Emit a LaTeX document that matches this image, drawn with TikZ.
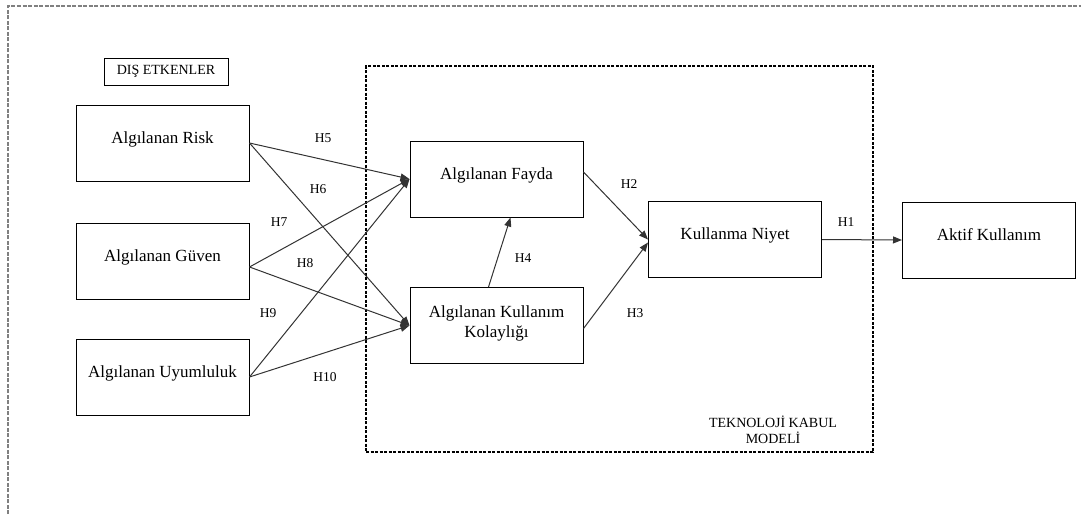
\documentclass[tikz,border=0pt]{standalone}
\usepackage{fontspec}
\setmainfont{Liberation Serif}
\usetikzlibrary{arrows.meta}

\begin{document}
\begin{tikzpicture}[x=1pt,y=-1pt,
		box/.style={draw,line width=1pt,minimum width=173pt,minimum height=76pt,text depth=11pt,align=center,font=\fontsize{17}{20}\selectfont},
		hlbl/.style={font=\fontsize{13.5}{15}\selectfont},
		link/.style={color=black!80,line width=1pt,-{Triangle[length=9pt,width=7pt]}}]
		      		\useasboundingbox (0,0) rectangle (1081,514);
		      		\draw[black!50,line width=1.2pt,dash pattern=on 4pt off 1.5pt] (8,514) -- (8,6) -- (1081,6);
		      		\node[draw,line width=1.1pt,dash pattern=on 3pt off 1.5pt,minimum width=507pt,minimum height=386pt] (tam) at (619.5,259) {};
		      		\node[align=center,font=\fontsize{14}{16}\selectfont] (tamlbl) at (773,430) {TEKNOLOJİ KABUL\\MODELİ};
		      		\node[draw,line width=1pt,minimum width=124pt,minimum height=27pt,font=\fontsize{14}{16}\selectfont] (dis) at (166,71.5) {DIŞ ETKENLER};
		      		\node[box] (risk) at (162.5,143) {Algılanan Risk};
		      		\node[box] (guven) at (162.5,261) {Algılanan Güven};
		      		\node[box] (uyum) at (162.5,377) {Algılanan Uyumluluk};
		      		\node[box] (fayda) at (496.5,179) {Algılanan Fayda};
		      		\node[box,text depth=8pt] (kolay) at (496.5,325.5) {Algılanan Kullanım\\Kolaylığı};
		      		\node[box] (niyet) at (735,239.5) {Kullanma Niyet};
		      		\node[box] (aktif) at (989,240) {Aktif Kullanım};
		      		\path[link]
		      		(risk.east) edge (fayda.west)
		      		edge (kolay.west)
		      		([yshift=-6pt]guven.east) edge (fayda.west)
		      		edge (kolay.west)
		      		(uyum.east) edge (fayda.west)
		      		edge (kolay.west)
		      		([yshift=7pt]fayda.east) edge (niyet.west)
		      		([yshift=-3pt]kolay.east) edge ([yshift=-3pt]niyet.west)
		      		([xshift=-8pt]kolay.north) edge ([xshift=14pt]fayda.south)
		      		(niyet.east) edge (aktif.west);
		      		\node[hlbl] (h1) at (846,222) {H1};
		      		\node[hlbl] (h2) at (629,184) {H2};
		      		\node[hlbl] (h3) at (635,313) {H3};
		      		\node[hlbl] (h4) at (523,258) {H4};
		      		\node[hlbl] (h5) at (323,138) {H5};
		      		\node[hlbl] (h6) at (318,189) {H6};
		      		\node[hlbl] (h7) at (279,222) {H7};
		      		\node[hlbl] (h8) at (305,263) {H8};
		      		\node[hlbl] (h9) at (268,313) {H9};
		      		\node[hlbl] (h10) at (325,377) {H10};
		      	\end{tikzpicture}
\end{document}
